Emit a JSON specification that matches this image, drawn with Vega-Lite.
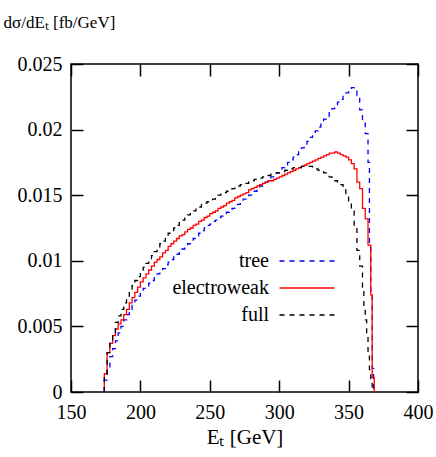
{
  "$schema": "https://vega.github.io/schema/vega-lite/v6.json",
  "width": 347,
  "height": 328,
  "autosize": "none",
  "padding": {"left": 71, "top": 64, "right": 18, "bottom": 65},
  "config": {
    "view": {"stroke": "black", "strokeWidth": 1.5},
    "font": "Liberation Serif",
    "axis": {"grid": false, "domain": false, "tickColor": "black", "tickWidth": 1.5, "tickSize": -12, "labelFont": "Liberation Serif", "labelFontSize": 20, "labelColor": "black", "titleFont": "Liberation Serif", "titleColor": "black", "titleFontWeight": "normal"},
    "legend": {"labelFont": "Liberation Serif", "labelFontSize": 20, "labelColor": "black"}
  },
  "datasets": {
    "h": [
      {"s":"tree","x":174,"y":0},{"s":"tree","x":174,"y":0.0009},{"s":"tree","x":176,"y":0.0018},{"s":"tree","x":178,"y":0.0027},{"s":"tree","x":180,"y":0.0033},{"s":"tree","x":182,"y":0.0039},{"s":"tree","x":184,"y":0.0045},{"s":"tree","x":186,"y":0.0050},{"s":"tree","x":188,"y":0.0055},{"s":"tree","x":190,"y":0.0059},{"s":"tree","x":192,"y":0.0063},{"s":"tree","x":194,"y":0.0066},{"s":"tree","x":196,"y":0.0070},{"s":"tree","x":198,"y":0.0073},{"s":"tree","x":200,"y":0.0076},{"s":"tree","x":202,"y":0.0079},{"s":"tree","x":204,"y":0.0081},{"s":"tree","x":206,"y":0.0083},{"s":"tree","x":208,"y":0.0085},{"s":"tree","x":210,"y":0.0088},{"s":"tree","x":212,"y":0.0090},{"s":"tree","x":214,"y":0.0092},{"s":"tree","x":216,"y":0.0094},{"s":"tree","x":218,"y":0.0097},{"s":"tree","x":220,"y":0.0099},{"s":"tree","x":222,"y":0.0101},{"s":"tree","x":224,"y":0.0103},{"s":"tree","x":226,"y":0.0105},{"s":"tree","x":228,"y":0.0107},{"s":"tree","x":230,"y":0.0109},{"s":"tree","x":232,"y":0.0111},{"s":"tree","x":234,"y":0.0113},{"s":"tree","x":236,"y":0.0115},{"s":"tree","x":238,"y":0.0117},{"s":"tree","x":240,"y":0.0119},{"s":"tree","x":242,"y":0.0121},{"s":"tree","x":244,"y":0.0123},{"s":"tree","x":246,"y":0.0125},{"s":"tree","x":248,"y":0.0127},{"s":"tree","x":250,"y":0.0128},{"s":"tree","x":252,"y":0.0130},{"s":"tree","x":254,"y":0.0131},{"s":"tree","x":256,"y":0.0133},{"s":"tree","x":258,"y":0.0134},{"s":"tree","x":260,"y":0.0136},{"s":"tree","x":262,"y":0.0137},{"s":"tree","x":264,"y":0.0139},{"s":"tree","x":266,"y":0.0140},{"s":"tree","x":268,"y":0.0142},{"s":"tree","x":270,"y":0.0143},{"s":"tree","x":272,"y":0.0145},{"s":"tree","x":274,"y":0.0147},{"s":"tree","x":276,"y":0.0148},{"s":"tree","x":278,"y":0.0150},{"s":"tree","x":280,"y":0.0152},{"s":"tree","x":282,"y":0.0153},{"s":"tree","x":284,"y":0.0155},{"s":"tree","x":286,"y":0.0157},{"s":"tree","x":288,"y":0.0158},{"s":"tree","x":290,"y":0.0160},{"s":"tree","x":292,"y":0.0162},{"s":"tree","x":294,"y":0.0164},{"s":"tree","x":296,"y":0.0166},{"s":"tree","x":298,"y":0.0167},{"s":"tree","x":300,"y":0.0169},{"s":"tree","x":302,"y":0.0171},{"s":"tree","x":304,"y":0.0173},{"s":"tree","x":306,"y":0.0175},{"s":"tree","x":308,"y":0.0177},{"s":"tree","x":310,"y":0.0179},{"s":"tree","x":312,"y":0.0181},{"s":"tree","x":314,"y":0.0183},{"s":"tree","x":316,"y":0.0186},{"s":"tree","x":318,"y":0.0188},{"s":"tree","x":320,"y":0.0191},{"s":"tree","x":322,"y":0.0194},{"s":"tree","x":324,"y":0.0196},{"s":"tree","x":326,"y":0.0199},{"s":"tree","x":328,"y":0.0202},{"s":"tree","x":330,"y":0.0205},{"s":"tree","x":332,"y":0.0208},{"s":"tree","x":334,"y":0.0210},{"s":"tree","x":336,"y":0.0213},{"s":"tree","x":338,"y":0.0216},{"s":"tree","x":340,"y":0.0218},{"s":"tree","x":342,"y":0.0221},{"s":"tree","x":344,"y":0.0223},{"s":"tree","x":346,"y":0.0226},{"s":"tree","x":348,"y":0.0228},{"s":"tree","x":350,"y":0.0230},{"s":"tree","x":352,"y":0.0232},{"s":"tree","x":354,"y":0.0231},{"s":"tree","x":356,"y":0.0226},{"s":"tree","x":358,"y":0.0215},{"s":"tree","x":360,"y":0.0205},{"s":"tree","x":362,"y":0.0197},{"s":"tree","x":364,"y":0.0175},{"s":"tree","x":365,"y":0.0110},{"s":"tree","x":366,"y":0.0075},{"s":"tree","x":367,"y":0.0018},{"s":"tree","x":368,"y":0},

      {"s":"electroweak","x":174,"y":0},{"s":"electroweak","x":174,"y":0.0014},{"s":"electroweak","x":176,"y":0.0030},{"s":"electroweak","x":178,"y":0.0037},{"s":"electroweak","x":180,"y":0.0043},{"s":"electroweak","x":182,"y":0.0048},{"s":"electroweak","x":184,"y":0.0052},{"s":"electroweak","x":186,"y":0.0055},{"s":"electroweak","x":188,"y":0.0059},{"s":"electroweak","x":190,"y":0.0063},{"s":"electroweak","x":192,"y":0.0068},{"s":"electroweak","x":194,"y":0.0072},{"s":"electroweak","x":196,"y":0.0076},{"s":"electroweak","x":198,"y":0.0080},{"s":"electroweak","x":200,"y":0.0084},{"s":"electroweak","x":202,"y":0.0087},{"s":"electroweak","x":204,"y":0.0090},{"s":"electroweak","x":206,"y":0.0093},{"s":"electroweak","x":208,"y":0.0096},{"s":"electroweak","x":210,"y":0.0099},{"s":"electroweak","x":212,"y":0.0101},{"s":"electroweak","x":214,"y":0.0103},{"s":"electroweak","x":216,"y":0.0106},{"s":"electroweak","x":218,"y":0.0108},{"s":"electroweak","x":220,"y":0.0111},{"s":"electroweak","x":222,"y":0.0113},{"s":"electroweak","x":224,"y":0.0115},{"s":"electroweak","x":226,"y":0.0117},{"s":"electroweak","x":228,"y":0.0119},{"s":"electroweak","x":230,"y":0.0120},{"s":"electroweak","x":232,"y":0.0122},{"s":"electroweak","x":234,"y":0.0124},{"s":"electroweak","x":236,"y":0.0125},{"s":"electroweak","x":238,"y":0.0127},{"s":"electroweak","x":240,"y":0.0128},{"s":"electroweak","x":242,"y":0.0130},{"s":"electroweak","x":244,"y":0.0131},{"s":"electroweak","x":246,"y":0.0133},{"s":"electroweak","x":248,"y":0.0134},{"s":"electroweak","x":250,"y":0.0136},{"s":"electroweak","x":252,"y":0.0137},{"s":"electroweak","x":254,"y":0.0138},{"s":"electroweak","x":256,"y":0.0140},{"s":"electroweak","x":258,"y":0.0141},{"s":"electroweak","x":260,"y":0.0142},{"s":"electroweak","x":262,"y":0.0144},{"s":"electroweak","x":264,"y":0.0145},{"s":"electroweak","x":266,"y":0.0146},{"s":"electroweak","x":268,"y":0.0148},{"s":"electroweak","x":270,"y":0.0149},{"s":"electroweak","x":272,"y":0.0150},{"s":"electroweak","x":274,"y":0.0151},{"s":"electroweak","x":276,"y":0.0152},{"s":"electroweak","x":278,"y":0.0154},{"s":"electroweak","x":280,"y":0.0155},{"s":"electroweak","x":282,"y":0.0156},{"s":"electroweak","x":284,"y":0.0157},{"s":"electroweak","x":286,"y":0.0158},{"s":"electroweak","x":288,"y":0.0159},{"s":"electroweak","x":290,"y":0.0160},{"s":"electroweak","x":292,"y":0.0161},{"s":"electroweak","x":294,"y":0.0161},{"s":"electroweak","x":296,"y":0.0162},{"s":"electroweak","x":298,"y":0.0163},{"s":"electroweak","x":300,"y":0.0164},{"s":"electroweak","x":302,"y":0.0165},{"s":"electroweak","x":304,"y":0.0166},{"s":"electroweak","x":306,"y":0.0167},{"s":"electroweak","x":308,"y":0.0168},{"s":"electroweak","x":310,"y":0.0169},{"s":"electroweak","x":312,"y":0.0170},{"s":"electroweak","x":314,"y":0.0171},{"s":"electroweak","x":316,"y":0.0172},{"s":"electroweak","x":318,"y":0.0173},{"s":"electroweak","x":320,"y":0.0174},{"s":"electroweak","x":322,"y":0.0175},{"s":"electroweak","x":324,"y":0.0176},{"s":"electroweak","x":326,"y":0.0177},{"s":"electroweak","x":328,"y":0.0178},{"s":"electroweak","x":330,"y":0.0179},{"s":"electroweak","x":332,"y":0.0180},{"s":"electroweak","x":334,"y":0.0181},{"s":"electroweak","x":336,"y":0.0182},{"s":"electroweak","x":338,"y":0.0182},{"s":"electroweak","x":340,"y":0.0183},{"s":"electroweak","x":342,"y":0.0182},{"s":"electroweak","x":344,"y":0.0181},{"s":"electroweak","x":346,"y":0.0180},{"s":"electroweak","x":348,"y":0.0179},{"s":"electroweak","x":350,"y":0.0177},{"s":"electroweak","x":352,"y":0.0174},{"s":"electroweak","x":354,"y":0.0170},{"s":"electroweak","x":356,"y":0.0160},{"s":"electroweak","x":358,"y":0.0155},{"s":"electroweak","x":360,"y":0.0140},{"s":"electroweak","x":362,"y":0.0132},{"s":"electroweak","x":364,"y":0.0112},{"s":"electroweak","x":366,"y":0.0074},{"s":"electroweak","x":367,"y":0.0011},{"s":"electroweak","x":368.5,"y":0},

      {"s":"full","x":174,"y":0},{"s":"full","x":174,"y":0.0013},{"s":"full","x":176,"y":0.0030},{"s":"full","x":178,"y":0.0038},{"s":"full","x":180,"y":0.0045},{"s":"full","x":182,"y":0.0053},{"s":"full","x":184,"y":0.0058},{"s":"full","x":186,"y":0.0063},{"s":"full","x":188,"y":0.0068},{"s":"full","x":190,"y":0.0073},{"s":"full","x":192,"y":0.0077},{"s":"full","x":194,"y":0.0081},{"s":"full","x":196,"y":0.0085},{"s":"full","x":198,"y":0.0088},{"s":"full","x":200,"y":0.0092},{"s":"full","x":202,"y":0.0095},{"s":"full","x":204,"y":0.0098},{"s":"full","x":206,"y":0.0101},{"s":"full","x":208,"y":0.0104},{"s":"full","x":210,"y":0.0107},{"s":"full","x":212,"y":0.0110},{"s":"full","x":214,"y":0.0113},{"s":"full","x":216,"y":0.0115},{"s":"full","x":218,"y":0.0118},{"s":"full","x":220,"y":0.0121},{"s":"full","x":222,"y":0.0123},{"s":"full","x":224,"y":0.0125},{"s":"full","x":226,"y":0.0127},{"s":"full","x":228,"y":0.0129},{"s":"full","x":230,"y":0.0131},{"s":"full","x":232,"y":0.0133},{"s":"full","x":234,"y":0.0135},{"s":"full","x":236,"y":0.0137},{"s":"full","x":238,"y":0.0138},{"s":"full","x":240,"y":0.0140},{"s":"full","x":242,"y":0.0141},{"s":"full","x":244,"y":0.0143},{"s":"full","x":246,"y":0.0144},{"s":"full","x":248,"y":0.0145},{"s":"full","x":250,"y":0.0146},{"s":"full","x":252,"y":0.0147},{"s":"full","x":254,"y":0.0148},{"s":"full","x":256,"y":0.0150},{"s":"full","x":258,"y":0.0151},{"s":"full","x":260,"y":0.0152},{"s":"full","x":262,"y":0.0153},{"s":"full","x":264,"y":0.0154},{"s":"full","x":266,"y":0.0155},{"s":"full","x":268,"y":0.0156},{"s":"full","x":270,"y":0.0157},{"s":"full","x":272,"y":0.0158},{"s":"full","x":274,"y":0.0158},{"s":"full","x":276,"y":0.0159},{"s":"full","x":278,"y":0.0160},{"s":"full","x":280,"y":0.0161},{"s":"full","x":282,"y":0.0162},{"s":"full","x":284,"y":0.0162},{"s":"full","x":286,"y":0.0163},{"s":"full","x":288,"y":0.0164},{"s":"full","x":290,"y":0.0164},{"s":"full","x":292,"y":0.0165},{"s":"full","x":294,"y":0.0166},{"s":"full","x":296,"y":0.0166},{"s":"full","x":298,"y":0.0167},{"s":"full","x":300,"y":0.0168},{"s":"full","x":302,"y":0.0168},{"s":"full","x":304,"y":0.0169},{"s":"full","x":306,"y":0.0170},{"s":"full","x":308,"y":0.0170},{"s":"full","x":310,"y":0.0171},{"s":"full","x":312,"y":0.0171},{"s":"full","x":314,"y":0.0171},{"s":"full","x":316,"y":0.0172},{"s":"full","x":318,"y":0.0172},{"s":"full","x":320,"y":0.0172},{"s":"full","x":322,"y":0.0172},{"s":"full","x":324,"y":0.0171},{"s":"full","x":326,"y":0.0170},{"s":"full","x":328,"y":0.0169},{"s":"full","x":330,"y":0.0168},{"s":"full","x":332,"y":0.0167},{"s":"full","x":334,"y":0.0166},{"s":"full","x":336,"y":0.0164},{"s":"full","x":338,"y":0.0162},{"s":"full","x":340,"y":0.0161},{"s":"full","x":342,"y":0.0159},{"s":"full","x":344,"y":0.0158},{"s":"full","x":346,"y":0.0154},{"s":"full","x":348,"y":0.0150},{"s":"full","x":350,"y":0.0145},{"s":"full","x":352,"y":0.0138},{"s":"full","x":354,"y":0.0125},{"s":"full","x":356,"y":0.0108},{"s":"full","x":358,"y":0.0096},{"s":"full","x":360,"y":0.0080},{"s":"full","x":361,"y":0.0065},{"s":"full","x":362,"y":0.0055},{"s":"full","x":363,"y":0.0042},{"s":"full","x":364,"y":0.0030},{"s":"full","x":365,"y":0.0017},{"s":"full","x":366,"y":0.0009},{"s":"full","x":367,"y":0}
    ]
  },
  "data": {"name": "h"},
  "layer": [
    {
      "mark": {"type": "line", "interpolate": "step-after", "strokeWidth": 1.3},
      "encoding": {
        "x": {"field": "x", "type": "quantitative", "scale": {"domain": [150, 400], "nice": false, "zero": false},
              "axis": {"orient": "bottom", "values": [150, 200, 250, 300, 350, 400], "title": "Eₜ [GeV]", "titleFontSize": 21, "labelPadding": 22, "titlePadding": 4, "labelFlush": false}},
        "y": {"field": "y", "type": "quantitative", "scale": {"domain": [0, 0.025], "nice": false},
              "axis": {"orient": "left", "values": [0, 0.005, 0.01, 0.015, 0.02, 0.025], "format": "~g", "labelPadding": 21,
                       "title": "dσ/dEₜ  [fb/GeV]", "titleAngle": 0, "titleAlign": "left", "titleBaseline": "middle", "titleX": -68, "titleY": -42, "titleFontSize": 17}},
        "color": {"field": "s", "type": "nominal", "scale": {"domain": ["tree", "electroweak", "full"], "range": ["#0000ff", "#ff0000", "#000000"]},
                  "legend": {"title": null, "orient": "none", "legendX": 226, "legendY": 187, "symbolType": "M-5,0H5", "symbolSize": 121, "symbolStrokeWidth": 1.5, "symbolFillColor": "transparent", "labelAlign": "right", "labelOffset": -48, "rowPadding": 7, "padding": 0}},
        "strokeDash": {"field": "s", "type": "nominal", "scale": {"domain": ["tree", "electroweak", "full"], "range": [[5, 5], [1, 0], [5, 5]]},
                  "legend": {"title": null, "orient": "none", "legendX": 226, "legendY": 187, "symbolType": "M-5,0H5", "symbolSize": 121, "symbolStrokeWidth": 1.5, "symbolFillColor": "transparent", "labelAlign": "right", "labelOffset": -48, "rowPadding": 7, "padding": 0}},
        "order": {"value": null}
      }
    },
    {
      "mark": {"type": "point", "opacity": 0},
      "encoding": {
        "x": {"field": "x", "type": "quantitative", "axis": {"orient": "top", "values": [150, 200, 250, 300, 350, 400], "labels": false, "title": null}},
        "y": {"field": "y", "type": "quantitative", "axis": {"orient": "right", "values": [0, 0.005, 0.01, 0.015, 0.02, 0.025], "labels": false, "title": null}}
      }
    }
  ],
  "resolve": {"axis": {"x": "independent", "y": "independent"}}
}
